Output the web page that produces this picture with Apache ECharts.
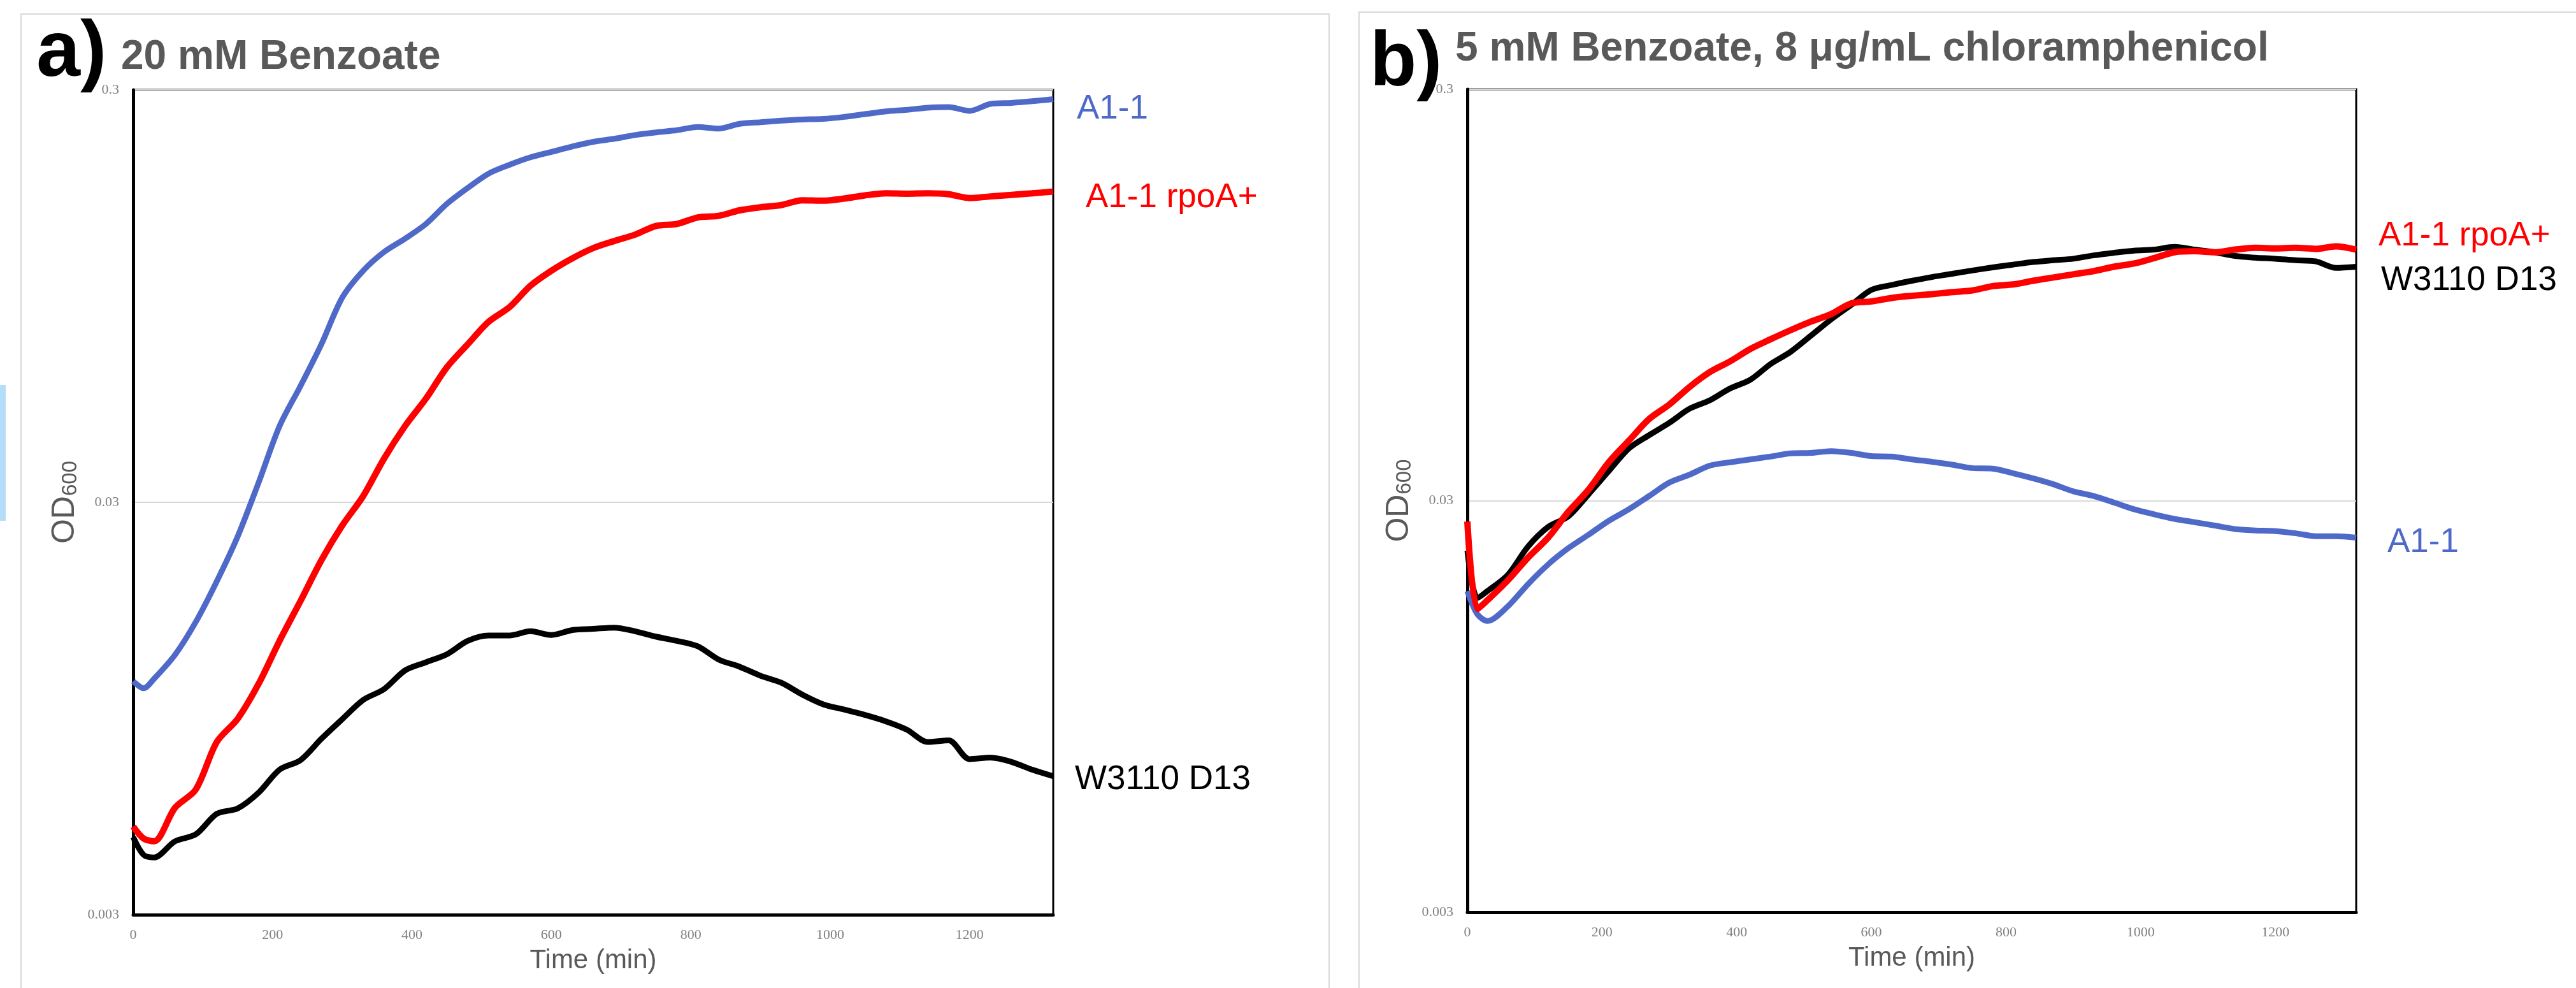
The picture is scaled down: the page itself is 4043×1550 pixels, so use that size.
<!DOCTYPE html>
<html>
<head>
<meta charset="utf-8">
<script src="https://cdn.jsdelivr.net/npm/echarts@6/dist/echarts.min.js"></script>
<style>
  html, body { margin: 0; padding: 0; background: #fff; }
  #chart { width: 4043px; height: 1550px; }
</style>
</head>
<body>
<div id="chart"></div>
<script>
// tiempos de lectura (min)
const times = [0, 15, 30, 60, 90, 120, 150, 180, 210, 240, 270, 300, 330, 360, 390, 420, 450, 480, 510, 540,
  570, 600, 630, 660, 690, 720, 750, 780, 810, 840, 870, 900, 930, 960, 990, 1020, 1050, 1080, 1110, 1140,
  1170, 1200, 1230, 1260, 1290, 1320];

// a) 20 mM Benzoate
const aA11 = [0.01105, 0.01062, 0.0112, 0.0128, 0.0154, 0.0193, 0.0248, 0.0335, 0.0459, 0.0574, 0.0725,
  0.0941, 0.1093, 0.1214, 0.1307, 0.1419, 0.1587, 0.1735, 0.188, 0.1975, 0.2059, 0.2122, 0.2187, 0.2245,
  0.2283, 0.2331, 0.2366, 0.2395, 0.2438, 0.2417, 0.2482, 0.2505, 0.2527, 0.2543, 0.2551, 0.258, 0.262,
  0.266, 0.2684, 0.2716, 0.2725, 0.2668, 0.2774, 0.279, 0.2816, 0.285];
const aRpoA = [0.00491, 0.00459, 0.00452, 0.00545, 0.00604, 0.00787, 0.00896, 0.01089, 0.01384, 0.01728,
  0.0217, 0.02636, 0.03106, 0.0383, 0.0459, 0.0535, 0.0637, 0.0725, 0.0822, 0.0892, 0.1005, 0.1093, 0.1171,
  0.124, 0.129, 0.1337, 0.1403, 0.1419, 0.1472, 0.1485, 0.1531, 0.1558, 0.1577, 0.162, 0.1616, 0.1635,
  0.1665, 0.1684, 0.168, 0.1684, 0.1675, 0.164, 0.1655, 0.1669, 0.1684, 0.170];
const aW3110 = [0.00463, 0.00419, 0.00413, 0.00452, 0.0047, 0.00527, 0.00543, 0.00593, 0.00674, 0.00711,
  0.00801, 0.00894, 0.00995, 0.01057, 0.01173, 0.01228, 0.01284, 0.01384, 0.01426, 0.01426, 0.0146, 0.0143,
  0.0147, 0.0148, 0.0149, 0.0146, 0.01417, 0.01384, 0.01343, 0.01247, 0.01198, 0.01139, 0.01095, 0.01025,
  0.00971, 0.00943, 0.00915, 0.00883, 0.00843, 0.00787, 0.00794, 0.00715, 0.00721, 0.00704, 0.00674, 0.0065];

// b) 5 mM Benzoate, 8 ug/mL cloranfenicol
const bA11 = [0.0181, 0.01588, 0.0153, 0.0166, 0.0188, 0.021, 0.023, 0.0248, 0.0268, 0.0286, 0.0308, 0.0332,
  0.0347, 0.0365, 0.0372, 0.0378, 0.0384, 0.0391, 0.0392, 0.0396, 0.0392, 0.0385, 0.0384, 0.0378, 0.0373,
  0.0367, 0.036, 0.0359, 0.035, 0.034, 0.0329, 0.0316, 0.0308, 0.0297, 0.0286, 0.0278, 0.0271, 0.0266,
  0.0261, 0.0256, 0.0254, 0.0253, 0.025, 0.0246, 0.0246, 0.0244];
const bRpoA = [0.0267, 0.01636, 0.0172, 0.0192, 0.0218, 0.0244, 0.0282, 0.0319, 0.0372, 0.042, 0.0474,
  0.0514, 0.0567, 0.0616, 0.0654, 0.0701, 0.074, 0.0779, 0.0817, 0.0852, 0.0905, 0.0915, 0.0933, 0.0944,
  0.0953, 0.0964, 0.0973, 0.0997, 0.1006, 0.1027, 0.1046, 0.1065, 0.1084, 0.1111, 0.1131, 0.1166, 0.1205,
  0.1212, 0.1205, 0.1223, 0.1235, 0.1231, 0.1235, 0.1228, 0.1245, 0.1223];
const bW3110 = [0.0227, 0.0174, 0.0181, 0.0198, 0.0232, 0.0259, 0.0275, 0.0311, 0.0354, 0.0402, 0.0433,
  0.0464, 0.0502, 0.0526, 0.0562, 0.059, 0.0644, 0.069, 0.0755, 0.0827, 0.0897, 0.0976, 0.1003, 0.1027,
  0.1049, 0.1068, 0.1088, 0.1107, 0.1124, 0.1141, 0.1152, 0.1162, 0.1184, 0.1201, 0.1216, 0.1223, 0.1242,
  0.1223, 0.1205, 0.118, 0.1169, 0.1162, 0.1152, 0.1145, 0.1104, 0.1111];

const yTicks = [0.003, 0.03, 0.3];
const xTicks = { min: 0, max: 1320, step: 200 };

const BLUE = '#4f69c9';
const RED = '#ff0000';
const BLACK = '#000000';
const SANS = 'Liberation Sans';
const SERIF = 'Liberation Serif';

const pairs = (vals) => times.map((t, i) => [t, vals[i]]);

const xAxisBase = (gridIndex) => ({
  type: 'value',
  gridIndex: gridIndex,
  min: xTicks.min,
  max: xTicks.max,
  interval: xTicks.step,
  axisLine: { show: true, onZero: false, lineStyle: { color: '#000', width: 5 } },
  axisTick: { show: false },
  splitLine: { show: false },
  axisLabel: {
    showMaxLabel: false, margin: 21, fontFamily: SERIF, fontSize: 22, color: '#808080',
    formatter: (v) => String(v)
  },
  name: 'Time (min)',
  nameLocation: 'middle',
  nameGap: 51,
  nameTextStyle: { fontFamily: SANS, fontSize: 42, color: '#595959' }
});

const yAxisBase = (gridIndex) => ({
  type: 'log',
  logBase: 10,
  gridIndex: gridIndex,
  min: 0.003,
  max: 0.3,
  axisLine: { show: true, lineStyle: { color: '#000', width: 5 } },
  axisTick: { show: false, customValues: yTicks },
  splitLine: { show: true, lineStyle: { color: '#d9d9d9', width: 2 } },
  axisLabel: {
    customValues: yTicks,
    margin: 22,
    fontFamily: SERIF,
    fontSize: 22,
    color: '#808080',
    formatter: (v) => String(parseFloat(Number(v).toPrecision(2)))
  },
  name: '{od|OD}{sub|600}',
  nameLocation: 'middle',
  nameGap: 82,
  nameTextStyle: {
    color: '#595959',
    rich: {
      od: { fontFamily: SANS, fontSize: 50, color: '#595959', verticalAlign: 'bottom', lineHeight: 64 },
      sub: { fontFamily: SANS, fontSize: 33, color: '#595959', verticalAlign: 'bottom', lineHeight: 33 }
    }
  }
});

const lineSeries = (name, vals, color, width, gridIdx, offset) => ({
  name: name,
  type: 'line',
  xAxisIndex: gridIdx,
  yAxisIndex: gridIdx,
  data: pairs(vals),
  showSymbol: false,
  symbol: 'none',
  smooth: 0.3,
  lineStyle: { color: color, width: width },
  itemStyle: { color: color },
  endLabel: {
    show: true,
    formatter: name,
    distance: 0,
    offset: offset,
    color: color,
    fontFamily: SANS,
    fontSize: 53
  }
});

const myChart = echarts.init(document.getElementById('chart'), null, { renderer: 'canvas' });
const option = {
  animation: false,
  backgroundColor: '#fff',
  title: [
    { text: 'a)', left: 57, top: 23, padding: 0, textStyle: { fontFamily: SANS, fontSize: 124, fontWeight: 'bold', color: '#000' } },
    { text: '20 mM Benzoate', left: 190, top: 58, padding: 0, textStyle: { fontFamily: SANS, fontSize: 64, fontWeight: 'bold', color: '#595959' } },
    { text: 'b)', left: 2150, top: 41, padding: 0, textStyle: { fontFamily: SANS, fontSize: 120, fontWeight: 'bold', color: '#000' } },
    { text: '5 mM Benzoate, 8 μg/mL chloramphenicol', left: 2284, top: 45, padding: 0, textStyle: { fontFamily: SANS, fontSize: 64, fontWeight: 'bold', color: '#595959' } }
  ],
  graphic: [
    { type: 'rect', z: -10, shape: { x: 33, y: 22, width: 2053, height: 1600 }, style: { fill: null, stroke: '#d9d9d9', lineWidth: 2 } },
    { type: 'rect', z: -10, shape: { x: 2133, y: 19, width: 1960, height: 1600 }, style: { fill: null, stroke: '#d9d9d9', lineWidth: 2 } },
    { type: 'rect', z: -10, shape: { x: 0, y: 604, width: 9, height: 213 }, style: { fill: '#b5dcf9' } }
  ],
  grid: [
    { left: 209, top: 141, width: 1444, height: 1294, show: true, borderColor: '#000', borderWidth: 3 },
    { left: 2303, top: 140, width: 1395, height: 1291, show: true, borderColor: '#000', borderWidth: 3 }
  ],
  xAxis: [xAxisBase(0), xAxisBase(1)],
  yAxis: [yAxisBase(0), yAxisBase(1)],
  series: [
    lineSeries('A1-1', aA11, BLUE, 9, 0, [37, 16]),
    lineSeries('W3110 D13', aW3110, BLACK, 9, 0, [34, 6]),
    lineSeries('A1-1 rpoA+', aRpoA, RED, 10, 0, [51, 10]),
    lineSeries('A1-1', bA11, BLUE, 9, 1, [49, 8]),
    lineSeries('W3110 D13', bW3110, BLACK, 9, 1, [39, 22]),
    lineSeries('A1-1 rpoA+', bRpoA, RED, 10, 1, [35, -21])
  ]
};
myChart.setOption(option);
</script>
</body>
</html>
